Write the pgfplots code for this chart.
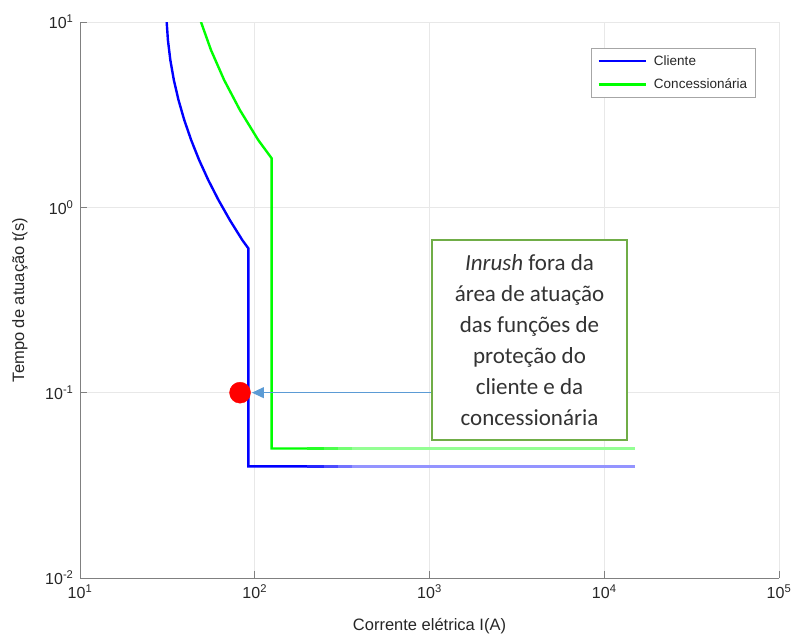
\documentclass[border=0pt]{standalone}
\usepackage{fontspec}
\setmainfont{Liberation Sans}
\newfontfamily\calibri{Carlito}
\usepackage{pgfplots}
\pgfplotsset{compat=1.18}
\usetikzlibrary{arrows.meta}

\definecolor{mblue}{RGB}{0,0,255}
\definecolor{mgreen}{RGB}{0,255,0}
\definecolor{arrowc}{RGB}{91,155,213}
\definecolor{boxc}{RGB}{112,173,71}
\definecolor{axc}{RGB}{128,128,128}
\definecolor{tickc}{RGB}{38,38,38}

\begin{document}
\begin{tikzpicture}
\useasboundingbox (-80pt,-57pt) rectangle (715pt,578pt);
\begin{axis}[
  scale only axis, width=699pt, height=556pt,
  xmode=log, ymode=log,
  xmin=10, xmax=1e5, ymin=0.01, ymax=10,
  axis x line*=bottom, axis y line*=left,
  axis line style={axc, line width=0.8pt, -},
  xtick={10,100,1000,10000,100000},
  xticklabels={10\textsuperscript{1},10\textsuperscript{2},10\textsuperscript{3},10\textsuperscript{4},10\textsuperscript{5}},
  ytick={0.01,0.1,1,10},
  yticklabels={10\textsuperscript{-2},10\textsuperscript{-1},10\textsuperscript{0},10\textsuperscript{1}},
  xminorticks=false, yminorticks=false,
  tick align=inside, major tick length=7pt,
  tick style={axc, line width=0.8pt},
  grid=major, major grid style={black!9, line width=0.7pt},
  ticklabel style={font=\fontsize{16}{19}\selectfont, text=tickc},
  xticklabel style={yshift=-3pt},
  yticklabel style={xshift=-3pt},
  xlabel={Corrente elétrica I(A)},
  ylabel={Tempo de atuação t(s)},
  label style={font=\fontsize{16.5}{20}\selectfont, text=tickc},
  xlabel style={at={(axis description cs:0.5,0)}, anchor=center, yshift=-48pt},
  ylabel style={at={(axis description cs:0,0.5)}, anchor=center, yshift=60pt},
  legend style={at={(0.966,0.953)}, anchor=north east, draw=black!35,
    font=\fontsize{13.5}{16}\selectfont, text=tickc, inner xsep=6pt, inner ysep=5pt,
    row sep=8pt, column sep=5pt, fill=white},
  legend cell align=left,
  legend image code/.code={\draw[#1, line width=2.6pt] (0pt,0pt) -- (47pt,0pt);},
]
\addplot[only marks, mark=*, mark size=10.5pt, color=red, forget plot] coordinates {(82.4,0.1)};

\addplot[mblue, line width=2.4pt] coordinates {
  (31.34,10) (31.85,7.995) (32.88,6.236) (34.44,4.864) (36.62,3.794)
  (39.51,2.959) (43.26,2.308) (48.06,1.800) (54.20,1.404) (62.02,1.095)
  (72.02,0.854) (84.88,0.666) (91.87,0.601) (91.87,0.04) (200,0.04)};
\addplot[mgreen, line width=2.4pt] coordinates {
  (49.25,10) (56.17,7.061) (66.81,4.864) (82.22,3.350) (104.69,2.308)
  (125,1.838) (125,0.05) (200,0.05)};
\addplot[mblue!85, line width=2.4pt, forget plot] coordinates {(200,0.04) (250,0.04)};
\addplot[mblue!70, line width=2.4pt, forget plot] coordinates {(250,0.04) (300,0.04)};
\addplot[mblue!55, line width=2.4pt, forget plot] coordinates {(300,0.04) (360,0.04)};
\addplot[mblue!42, line width=2.4pt, forget plot] coordinates {(360,0.04) (15000,0.04)};
\addplot[mgreen!85, line width=2.4pt, forget plot] coordinates {(200,0.05) (250,0.05)};
\addplot[mgreen!70, line width=2.4pt, forget plot] coordinates {(250,0.05) (300,0.05)};
\addplot[mgreen!55, line width=2.4pt, forget plot] coordinates {(300,0.05) (360,0.05)};
\addplot[mgreen!42, line width=2.4pt, forget plot] coordinates {(360,0.05) (15000,0.05)};
\legend{Cliente, Concessionária}

\draw[arrowc, line width=1pt, -{Triangle[length=12pt,width=11pt]}] (axis cs:1033,0.1) -- (axis cs:96.4,0.1);
\end{axis}
\node[draw=boxc, line width=1.8pt, fill=white, minimum width=195pt, minimum height=200pt,
  align=center, font=\calibri\fontsize{23}{31}\selectfont, text=black!80]
  at (449.5pt,238pt) {\textit{Inrush} fora da\\ área de atuação\\ das funções de\\ proteção do\\ cliente e da\\ concessionária};
\end{tikzpicture}
\end{document}
